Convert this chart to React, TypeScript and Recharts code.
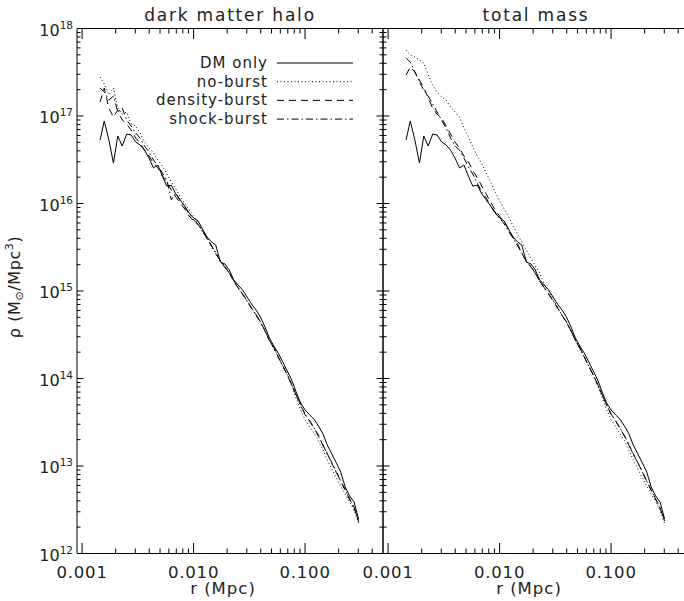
import React from 'react';
import { LineChart, Line, XAxis, YAxis, Legend } from 'recharts';

// ---------- data ----------
const radius = [0.00145, 0.00158, 0.00174, 0.00191, 0.00209, 0.00229, 0.00251, 0.00275, 0.00302, 0.00331,
  0.00363, 0.00398, 0.00437, 0.00479, 0.00525, 0.00575, 0.00631, 0.00692, 0.00759, 0.00832,
  0.00912, 0.0100, 0.0110, 0.0120, 0.0132, 0.0145, 0.0158, 0.0174, 0.0191, 0.0209,
  0.0229, 0.0251, 0.0275, 0.0302, 0.0331, 0.0363, 0.0398, 0.0437, 0.0479, 0.0525,
  0.0575, 0.0631, 0.0692, 0.0759, 0.0832, 0.0912, 0.100, 0.110, 0.120, 0.132,
  0.145, 0.158, 0.174, 0.191, 0.209, 0.229, 0.251, 0.275, 0.302];

const dmOnly = [5.32e16, 8.77e16, 5.3e16, 2.9e16, 5.9e16, 4.54e16, 6.22e16, 6.07e16, 5.05e16, 4.67e16,
  4.08e16, 3.31e16, 2.55e16, 2.75e16, 2.06e16, 1.58e16, 1.62e16, 1.29e16, 1.1e16, 9.35e15,
  7.78e15, 6.82e15, 6.31e15, 5.12e15, 4.14e15, 3.63e15, 3.36e15, 2.14e15, 2.04e15, 1.74e15,
  1.34e15, 1.17e15, 1.03e15, 8.53e14, 7.1e14, 6.07e14, 5.05e14, 3.88e14, 2.9e14, 2.35e14,
  1.95e14, 1.55e14, 1.22e14, 9.6e13, 7.0e13, 5.25e13, 4.37e13, 3.83e13, 3.44e13, 2.86e13,
  2.32e13, 1.74e13, 1.37e13, 1.08e13, 8.5e12, 5.75e12, 4.54e12, 3.88e12, 2.48e12];

const haloNoBurst = [2.79e17, 2.32e17, 1.74e17, 2.09e17, 1.23e17, 1.05e17, 1.11e17, 8.11e16, 7.69e16, 6.4e16,
  5.05e16, 4.31e16, 3.78e16, 3.14e16, 2.69e16, 2.17e16, 1.76e16, 1.47e16, 1.19e16, 1.01e16,
  8.43e15, 7.19e15, 5.9e15, 4.75e15, 4.1e15, 3.2e15, 2.75e15, 2.15e15, 1.9e15, 1.58e15,
  1.32e15, 1.07e15, 9.3e14, 7.6e14, 6.45e14, 5.25e14, 4.45e14, 3.45e14, 2.78e14, 2.2e14,
  1.78e14, 1.37e14, 1.1e14, 8.2e13, 5.98e13, 4.37e13, 3.36e13, 2.79e13, 2.38e13, 1.93e13,
  1.52e13, 1.17e13, 9.24e12, 7.29e12, 5.9e12, 4.79e12, 3.88e12, 3.14e12, 2.23e12];

const haloDensityBurst = [1.45e17, 2.09e17, 1.23e17, 9.75e16, 1.17e17, 9.0e16, 8.11e16, 6.92e16, 5.61e16, 4.91e16,
  4.08e16, 3.49e16, 2.9e16, 2.55e16, 2.06e16, 1.76e16, 1.43e16, 1.19e16, 1.01e16, 8.65e15,
  7.19e15, 6.31e15, 5.7e15, 4.95e15, 3.95e15, 3.3e15, 2.65e15, 2.25e15, 1.85e15, 1.63e15,
  1.28e15, 1.1e15, 9.1e14, 7.8e14, 6.3e14, 5.4e14, 4.35e14, 3.55e14, 2.7e14, 2.27e14,
  1.74e14, 1.42e14, 1.08e14, 8.6e13, 6.4e13, 5.1e13, 3.85e13, 3.3e13, 2.68e13, 2.25e13,
  1.7e13, 1.4e13, 1.06e13, 8.7e12, 6.6e12, 5.4e12, 4.1e12, 3.4e12, 2.3e12];

const haloShockBurst = [2.09e17, 1.88e17, 1.52e17, 1.69e17, 1.11e17, 1.23e17, 9.0e16, 7.69e16, 6.4e16, 5.61e16,
  4.54e16, 3.88e16, 3.14e16, 2.69e16, 2.23e16, 1.86e16, 1.1e16, 1.32e16, 1.07e16, 9.12e15,
  7.59e15, 6.47e15, 5.8e15, 4.9e15, 4.0e15, 3.25e15, 2.75e15, 2.2e15, 1.9e15, 1.6e15,
  1.32e15, 1.08e15, 9.3e14, 7.7e14, 6.4e14, 5.3e14, 4.45e14, 3.5e14, 2.75e14, 2.2e14,
  1.78e14, 1.38e14, 1.12e14, 8.5e13, 6.5e13, 4.9e13, 3.95e13, 3.25e13, 2.75e13, 2.18e13,
  1.75e13, 1.35e13, 1.1e13, 8.4e12, 6.8e12, 5.25e12, 4.25e12, 3.25e12, 2.45e12];

const totalNoBurst = [5.68e17, 4.98e17, 4.72e17, 4.37e17, 4.03e17, 2.94e17, 2.26e17, 1.88e17, 1.65e17, 1.52e17,
  1.27e17, 1.11e17, 9.75e16, 7.29e16, 5.75e16, 4.42e16, 3.49e16, 2.83e16, 2.23e16, 1.76e16,
  1.35e16, 1.07e16, 8.65e15, 7.19e15, 5.53e15, 4.48e15, 3.63e15, 2.94e15, 2.38e15, 1.93e15,
  1.61e15, 1.2e15, 1.0e15, 8.1e14, 6.5e14, 5.3e14, 4.4e14, 3.5e14, 2.75e14, 2.2e14,
  1.75e14, 1.38e14, 1.08e14, 8.3e13, 6.0e13, 4.4e13, 3.4e13, 2.8e13, 2.35e13, 1.95e13,
  1.5e13, 1.18e13, 9.2e12, 7.3e12, 5.9e12, 4.8e12, 3.9e12, 3.1e12, 2.2e12];

const totalDensityBurst = [2.94e17, 3.63e17, 3.18e17, 2.58e17, 2.09e17, 1.61e17, 1.23e17, 1.05e17, 9.49e16, 7.69e16,
  6.22e16, 5.05e16, 4.31e16, 3.49e16, 2.98e16, 2.41e16, 1.96e16, 1.58e16, 1.28e16, 1.04e16,
  8.43e15, 7.19e15, 6.15e15, 5.12e15, 4.14e15, 3.44e15, 2.7e15, 2.2e15, 1.88e15, 1.6e15,
  1.3e15, 1.1e15, 9.2e14, 7.7e14, 6.4e14, 5.3e14, 4.4e14, 3.5e14, 2.72e14, 2.25e14,
  1.76e14, 1.4e14, 1.1e14, 8.5e13, 6.5e13, 5.0e13, 3.9e13, 3.3e13, 2.7e13, 2.2e13,
  1.72e13, 1.38e13, 1.08e13, 8.6e12, 6.7e12, 5.3e12, 4.2e12, 3.3e12, 2.35e12];

const totalShockBurst = [4.6e17, 4.14e17, 3.18e17, 2.45e17, 1.98e17, 1.69e17, 1.37e17, 1.11e17, 9.0e16, 7.29e16,
  5.61e16, 4.54e16, 4.08e16, 3.31e16, 2.61e16, 2.17e16, 1.71e16, 1.35e16, 1.16e16, 9.36e15,
  8.0e15, 6.82e15, 5.83e15, 4.85e15, 4.0e15, 3.3e15, 2.72e15, 2.18e15, 1.9e15, 1.6e15,
  1.3e15, 1.08e15, 9.3e14, 7.7e14, 6.4e14, 5.3e14, 4.45e14, 3.5e14, 2.75e14, 2.2e14,
  1.77e14, 1.38e14, 1.1e14, 8.5e13, 6.5e13, 4.95e13, 3.95e13, 3.25e13, 2.72e13, 2.2e13,
  1.75e13, 1.36e13, 1.09e13, 8.5e12, 6.7e12, 5.3e12, 4.2e12, 3.3e12, 2.4e12];

const seriesNames = ['DM only', 'no-burst', 'density-burst', 'shock-burst'];
const panelTitles = ['dark matter halo', 'total mass'];

// ---------- axis ticks ----------
const xMajor = [0.001, 0.01, 0.1];
const xMajorLabels = ['0.001', '0.010', '0.100'];
const xMinor = [0.002, 0.003, 0.004, 0.005, 0.006, 0.007, 0.008, 0.009,
  0.02, 0.03, 0.04, 0.05, 0.06, 0.07, 0.08, 0.09, 0.2, 0.3, 0.4];
const yMajor = [1e12, 1e13, 1e14, 1e15, 1e16, 1e17, 1e18];
const yMinorMantissa = [2, 3, 4, 5, 6, 7, 8, 9];

const xTicks = [...xMajor, ...xMinor].sort((a, b) => a - b);
const yTicks = [...yMajor, ...yMajor.slice(0, -1).flatMap((d) => yMinorMantissa.map((m) => m * d))].sort((a, b) => a - b);

const X_DOMAIN = [0.0009, 0.5];
const Y_DOMAIN = [1e12, 1e18];

// ---------- styles ----------
const INK = '#000';
const TEXT = '#222';
const FONT = '"DejaVu Sans", "Liberation Sans", sans-serif';
const seriesDash = ['', '1 2.5', '7 5', '7 3 1.5 3'];
const seriesKeys = ['dm', 'noBurst', 'densityBurst', 'shockBurst'];

const isIn = (arr: number[], v: number) => arr.findIndex((m) => Math.abs(m - v) / m < 1e-6);

const makeXTick = (side: 'bottom' | 'top', showLabels: boolean) => (props: any) => {
  const { x, y, payload } = props;
  const mi = isIn(xMajor, payload.value);
  const len = mi >= 0 ? 10.5 : 5;
  const dir = side === 'bottom' ? -1 : 1;
  return (
    <g>
      <line x1={x} y1={y} x2={x} y2={y + dir * len} stroke={INK} strokeWidth={1} />
      {showLabels && side === 'bottom' && mi >= 0 && (
        <text x={x} y={y + 24} textAnchor="middle" fontFamily={FONT} fontSize={16.5}
          letterSpacing={0.8} fill={TEXT}>{xMajorLabels[mi]}</text>
      )}
    </g>
  );
};

const makeYTick = (side: 'left' | 'right', showLabels: boolean) => (props: any) => {
  const { x, y, payload } = props;
  const mi = isIn(yMajor, payload.value);
  const len = mi >= 0 ? 6.5 : 3.5;
  const dir = side === 'left' ? 1 : -1;
  const exp = Math.round(Math.log10(payload.value));
  return (
    <g>
      <line x1={x} y1={y} x2={x + dir * len} y2={y} stroke={INK} strokeWidth={1} />
      {showLabels && side === 'left' && mi >= 0 && (
        <text x={x - 4} y={y + 7} textAnchor="end" fontFamily={FONT} fill={TEXT}>
          <tspan fontSize={16}>10</tspan>
          <tspan fontSize={10.5} dy={-7}>{exp}</tspan>
        </text>
      )}
    </g>
  );
};

const titleLabel = (text: string) => (p: any) => {
  const vb = p.viewBox;
  return (
    <text x={vb.x + vb.width / 2} y={vb.y + vb.height - 8} textAnchor="middle" fontFamily={FONT}
      fontSize={17} letterSpacing={1.8} fill={TEXT}>{text}</text>
  );
};

const xTitleLabel = (p: any) => {
  const vb = p.viewBox;
  return (
    <text x={vb.x + vb.width / 2 - 7} y={vb.y + 40} textAnchor="middle" fontFamily={FONT}
      fontSize={16.5} letterSpacing={1} fill={TEXT}>r (Mpc)</text>
  );
};

const yTitleLabel = (p: any) => {
  const vb = p.viewBox;
  const cx = vb.x + vb.width - 57;
  const cy = vb.y + vb.height / 2 - 4;
  return (
    <text x={cx} y={cy} transform={`rotate(-90 ${cx} ${cy})`} textAnchor="middle"
      fontFamily={FONT} fontSize={16} letterSpacing={0.6} fill={TEXT}>
      <tspan>ρ (M</tspan>
      <tspan fontSize={11} dy={3}>⊙</tspan>
      <tspan dy={-3}>/Mpc</tspan>
      <tspan fontSize={11} dy={-7}>3</tspan>
      <tspan dy={7}>)</tspan>
    </text>
  );
};

const LegendBox = (props: any) => {
  const payload = [...(props.payload || [])].sort(
    (a: any, b: any) => seriesNames.indexOf(a.value) - seriesNames.indexOf(b.value));
  return (
    <svg width={180} height={80} style={{ display: 'block', overflow: 'visible' }}>
      {payload.map((entry: any, i: number) => {
        const k = seriesNames.indexOf(entry.value);
        const cy = 11 + i * 18.7;
        return (
          <g key={entry.value}>
            <text x={78} y={cy + 5} textAnchor="end" fontFamily={FONT} fontSize={15}
              letterSpacing={1} fill={TEXT}>{entry.value}</text>
            <line x1={87} y1={cy} x2={163} y2={cy} stroke={INK} strokeWidth={1}
              strokeDasharray={seriesDash[k] || undefined} />
          </g>
        );
      })}
    </svg>
  );
};

type PanelProps = {
  rows: any[];
  title: string;
  margin: { top: number; right: number; bottom: number; left: number };
  primary: boolean;
};

const Panel = ({ rows, title, margin, primary }: PanelProps) => (
  <LineChart width={700} height={601} data={rows} margin={margin}>
    <XAxis xAxisId="b" orientation="bottom" dataKey="r" type="number" scale="log"
      domain={X_DOMAIN} allowDataOverflow ticks={xTicks} interval={0} height={1}
      tickSize={0} tickMargin={0} tickLine={false} axisLine={{ stroke: INK }}
      tick={makeXTick('bottom', true)} label={xTitleLabel} />
    <XAxis xAxisId="t" orientation="top" dataKey="r" type="number" scale="log"
      domain={X_DOMAIN} allowDataOverflow ticks={xTicks} interval={0} height={1}
      tickSize={0} tickMargin={0} tickLine={false} axisLine={{ stroke: INK }}
      tick={makeXTick('top', false)} label={titleLabel(title)} />
    <YAxis yAxisId="l" orientation="left" type="number" scale="log" domain={Y_DOMAIN}
      allowDataOverflow ticks={yTicks} interval={0} width={1} tickSize={0} tickMargin={0}
      tickLine={false} axisLine={{ stroke: INK }} tick={makeYTick('left', primary)}
      label={primary ? yTitleLabel : undefined} />
    <YAxis yAxisId="r" orientation="right" type="number" scale="log" domain={Y_DOMAIN}
      allowDataOverflow ticks={yTicks} interval={0} width={1} tickSize={0} tickMargin={0}
      tickLine={false} axisLine={primary ? { stroke: INK } : false}
      tick={primary ? makeYTick('right', false) : false} />
    {seriesKeys.map((k, i) => (
      <Line key={k} xAxisId="b" yAxisId="l" type="linear" dataKey={k} name={seriesNames[i]}
        stroke={INK} strokeWidth={1} strokeDasharray={seriesDash[i] || undefined}
        dot={false} activeDot={false} isAnimationActive={false} />
    ))}
    {primary && (
      <Legend layout="vertical" align="center" verticalAlign="middle" content={LegendBox}
        wrapperStyle={{ left: 190, top: 52, width: 180, height: 80 }} />
    )}
  </LineChart>
);

export default function App() {
  const haloRows = radius.map((r, i) => ({
    r, dm: dmOnly[i], noBurst: haloNoBurst[i], densityBurst: haloDensityBurst[i], shockBurst: haloShockBurst[i],
  }));
  const totalRows = radius.map((r, i) => ({
    r, dm: dmOnly[i], noBurst: totalNoBurst[i], densityBurst: totalDensityBurst[i], shockBurst: totalShockBurst[i],
  }));
  return (
    <div style={{ position: 'absolute', left: 0, top: 0, width: 684, height: 601, overflow: 'hidden', background: '#fff' }}>
      <div style={{ position: 'absolute', left: 0, top: 0 }}>
        <Panel rows={haloRows} title={panelTitles[0]} primary
          margin={{ top: 27.5, right: 316, bottom: 46.5, left: 76 }} />
      </div>
      <div style={{ position: 'absolute', left: 0, top: 0 }}>
        <Panel rows={totalRows} title={panelTitles[1]} primary={false}
          margin={{ top: 27.5, right: 10, bottom: 46.5, left: 382 }} />
      </div>
    </div>
  );
}
